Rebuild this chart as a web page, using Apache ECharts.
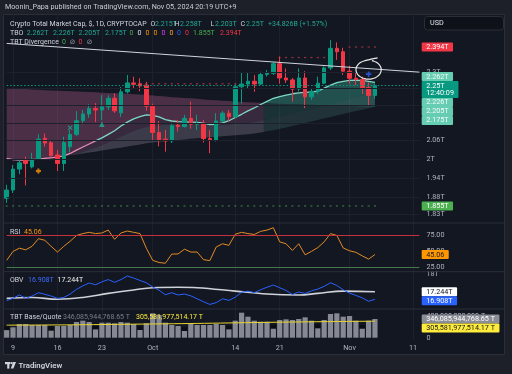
<!DOCTYPE html>
<html>
<head>
<meta charset="utf-8">
<script src="https://cdn.jsdelivr.net/npm/echarts@6.0.0/dist/echarts.min.js"></script>
<style>
html,body{margin:0;padding:0;background:#1d2029;overflow:hidden}
#chart{width:512px;height:374px}
</style>
</head>
<body>
<div id="chart"></div>
<script>
// ---------- categories (daily) ----------
const dates = ['09-08','09-09','09-10','09-11','09-12','09-13','09-14','09-15','09-16','09-17','09-18','09-19','09-20','09-21','09-22','09-23','09-24','09-25','09-26','09-27','09-28','09-29','09-30',
'10-01','10-02','10-03','10-04','10-05','10-06','10-07','10-08','10-09','10-10','10-11','10-12','10-13','10-14','10-15','10-16','10-17','10-18','10-19','10-20','10-21','10-22','10-23','10-24','10-25','10-26','10-27','10-28','10-29','10-30','10-31',
'11-01','11-02','11-03','11-04','11-05','11-06','11-07','11-08','11-09','11-10','11-11','11-12'];
const tickDates = ['09-09','09-16','09-23','10-01','10-14','10-21','11-01','11-11'];
const tickTexts = ['9','16','23','Oct','14','21','Nov','11'];
const priceTicks = [2.3, 2.24, 2.18, 2.12, 2.06, 2, 1.94, 1.88, 1.83];
const rsiTicks = [75, 50, 25];
const obvTicks = [18];
const volTicks = [0, 400];

// ---------- price (T) ----------
const openP  = [1.878,1.903,1.968,1.997,1.975,2.000,2.068,2.053,2.013,1.986,2.040,2.081,2.127,2.150,2.169,2.164,2.175,2.205,2.154,2.228,2.260,2.257,2.252,2.177,2.087,2.065,2.059,2.112,2.107,2.135,2.115,2.118,2.067,2.062,2.126,2.153,2.141,2.246,2.256,2.266,2.256,2.291,2.295,2.331,2.278,2.271,2.238,2.278,2.210,2.230,2.259,2.315,2.389,2.376,2.303,2.277,2.272,2.243,2.215];
const closeP = [1.903,1.968,1.988,1.986,2.000,2.065,2.052,2.011,1.986,2.054,2.081,2.127,2.150,2.169,2.164,2.175,2.205,2.161,2.228,2.260,2.255,2.249,2.177,2.087,2.062,2.059,2.110,2.107,2.135,2.115,2.118,2.067,2.063,2.126,2.153,2.141,2.246,2.256,2.266,2.256,2.291,2.295,2.331,2.278,2.271,2.238,2.278,2.210,2.230,2.259,2.315,2.389,2.376,2.303,2.277,2.272,2.243,2.215,2.250];
const lowP   = [1.864,1.894,1.952,1.917,1.970,1.997,2.040,2.008,1.962,1.962,2.022,2.075,2.115,2.137,2.122,2.129,2.164,2.154,2.140,2.222,2.238,2.230,2.161,2.059,2.041,2.024,2.052,2.090,2.104,2.100,2.096,2.054,2.019,2.057,2.122,2.126,2.136,2.187,2.238,2.228,2.252,2.283,2.289,2.257,2.260,2.193,2.229,2.170,2.199,2.220,2.255,2.307,2.345,2.289,2.257,2.252,2.220,2.181,2.203];
const highP  = [1.919,1.981,1.997,2.008,2.020,2.081,2.084,2.059,2.029,2.073,2.096,2.160,2.164,2.184,2.188,2.216,2.216,2.223,2.245,2.289,2.283,2.277,2.264,2.186,2.126,2.096,2.117,2.129,2.147,2.193,2.147,2.129,2.096,2.153,2.160,2.164,2.255,2.298,2.298,2.289,2.301,2.307,2.337,2.358,2.313,2.278,2.313,2.303,2.240,2.283,2.321,2.421,2.412,2.391,2.323,2.298,2.283,2.262,2.258];
const lastPrice = 2.25;

// ---------- TBO lines (T) ----------
const tboFast = [2.002,1.998,1.997,1.997,1.998,2.000,2.002,2.004,2.006,2.010,2.018,2.029,2.039,2.049,2.059,2.069,2.081,2.093,2.109,2.122,2.133,2.141,2.147,2.145,2.140,2.131,2.126,2.124,2.123,2.122,2.121,2.119,2.114,2.115,2.120,2.127,2.138,2.149,2.161,2.171,2.183,2.194,2.205,2.211,2.216,2.221,2.224,2.226,2.228,2.230,2.241,2.252,2.261,2.266,2.269,2.270,2.269,2.266,2.262];
const tboSlow = [2.241,2.240,2.239,2.238,2.236,2.235,2.234,2.233,2.232,2.231,2.230,2.229,2.228,2.227,2.226,2.225,2.224,2.223,2.222,2.221,2.219,2.218,2.217,2.215,2.213,2.211,2.209,2.208,2.206,2.205,2.203,2.201,2.199,2.198,2.196,2.195,2.193,2.192,2.191,2.190,2.189,2.188,2.187,2.186,2.185,2.184,2.184,2.183,2.182,2.181,2.181,2.180,2.179,2.178,2.178,2.177,2.176,2.176,2.175];
const tboMid  = [null,null,null,null,null,null,null,null,2.006,2.008,2.012,2.017,2.023,2.030,2.037,2.045,2.054,2.063,2.073,2.083,2.092,2.100,2.106,2.109,2.111,2.112,2.113,2.114,2.114,2.114,2.114,2.113,2.111,2.111,2.112,2.114,2.116,2.118,2.119,2.122,2.126,2.131,2.136,2.141,2.147,2.152,2.157,2.162,2.167,2.173,2.178,2.185,2.192,2.197,2.202,2.208,2.213,2.219,2.226];
const tboLow  = [null,null,null,null,null,null,null,null,2.005,2.008,2.012,2.015,2.018,2.021,2.024,2.028,2.031,2.034,2.037,2.041,2.044,2.047,2.051,2.054,2.056,2.058,2.060,2.062,2.064,2.066,2.068,2.070,2.071,2.073,2.075,2.076,2.078,2.080,2.081,2.084,2.087,2.091,2.095,2.100,2.104,2.109,2.114,2.119,2.124,2.129,2.135,2.140,2.145,2.150,2.155,2.160,2.165,2.170,2.175];

// level dots
const levelValues = [1.855, 2.257, 2.354, 2.394];
const levelFrom   = [0, 21, 43, 54];
const levelTo     = [58, 36, 50, 58];
// trend line end points [category index, value]
const trendIdx = [0, 65];
const trendVal = [2.408, 2.2994];
// signal markers
const signalIdx = [5, 10, 15, 57];
const signalVal = [1.962, 2.103, 2.115, 2.292];
// hand drawn circle centre
const circleIdx = 57.05, circleVal = 2.3084;

// ---------- RSI ----------
const rsi = [36,50,55,52.5,58,70,67.5,58,49,58,66,75,78,80,78,79,83.5,69,79,82,80,78,55,36,32.5,31.4,45.8,46,53.5,49,49,37,35.5,56.9,62,59.5,77,80,78,76.6,81.5,83.5,87.3,65,62,51.5,62,44.6,50,56,65,78,75,55.4,51,48.5,43,37.8,45.06];

// ---------- OBV (T) ----------
const obv = [16.85,16.95,17.10,16.95,17.05,17.20,17.13,17.05,16.95,16.99,17.14,17.35,17.50,17.63,17.55,17.68,17.78,17.66,17.78,17.94,17.85,17.74,17.64,17.45,17.31,17.11,17.20,17.10,17.14,17.06,16.93,16.80,16.68,16.76,16.93,16.86,17.00,17.22,17.27,17.20,17.33,17.44,17.54,17.42,17.30,17.12,17.23,17.17,17.28,17.36,17.48,17.64,17.52,17.33,17.18,17.08,16.97,16.82,16.908];
const obvMaIdx = [0,4,8,12,16,20,23,27,30,36,41,46,49,53,58];
const obvMaVal = [16.95,16.99,16.91,16.99,17.17,17.32,17.42,17.44,17.42,17.27,17.14,17.10,17.17,17.27,17.244];

// ---------- TBT Base/Quote (billions of T) ----------
const volGray = [140,192,253,253,235,235,235,130,216,216,235,290,315,290,154,278,278,266,290,278,253,142,266,451,420,278,235,216,124,266,235,235,235,253,235,154,315,463,389,315,296,296,166,327,340,327,346,377,315,173,327,438,451,389,401,315,166,315,346.09];
const sundayIdx   = [0,7,14,21,28,35,42,49,56];
const sundayTotal = [215,204,216,204,192,216,235,253,235];
const volMaIdx = [0,10,20,30,40,50,58];
const volMaVal = [232,238,250,264,282,297,305.58];

// ---------- build ----------
const N = openP.length;
const LAST = dates.length - 1;
const FONT = 'Roboto, "DejaVu Sans", sans-serif';
const F7 = '7.2px ' + FONT;
const FH = '7px ' + FONT;
const AX = '#b2b5be';
const isTick = (idx, val) => tickDates.indexOf(val) >= 0;
const candleData = openP.map((o, i) => [o, closeP[i], lowP[i], highP[i]]);
const volDark = volGray.map((v, i) => { const k = sundayIdx.indexOf(i); return k >= 0 ? sundayTotal[k] : null; });

const mctx = document.createElement('canvas').getContext('2d');
function textW(t) { mctx.font = F7; return mctx.measureText(t).width; }

function renderCloud(params, api) {
  const P = (i, v) => api.coord([i, v]);
  const d = tboFast.map((f, i) => f - tboSlow[i]);
  const kids = [];
  function band(up, lo, s, e, cNeg, cPos) {
    let U = [], D = [];
    const flush = (pos) => {
      if (U.length > 1) kids.push({type: 'polygon', silent: true, shape: {points: U.concat(D.slice().reverse())}, style: {fill: pos ? cPos : cNeg}});
    };
    for (let i = s; i <= e; i++) {
      if (i > s && (d[i] > 0) !== (d[i - 1] > 0)) {
        const t = d[i - 1] / (d[i - 1] - d[i]);
        const a = P(i - 1, up[i - 1]), b = P(i, up[i]), c = P(i - 1, lo[i - 1]), q = P(i, lo[i]);
        const um = [a[0] + (b[0] - a[0]) * t, a[1] + (b[1] - a[1]) * t];
        const lm = [c[0] + (q[0] - c[0]) * t, c[1] + (q[1] - c[1]) * t];
        U.push(um); D.push(lm);
        flush(d[i - 1] > 0);
        U = [um]; D = [lm];
      }
      U.push(P(i, up[i])); D.push(P(i, lo[i]));
    }
    flush(d[e] > 0);
  }
  band(tboFast, tboSlow, 0, N - 1, 'rgba(220,110,170,0.28)', 'rgba(60,180,160,0.24)');
  band(tboFast, tboMid, 8, N - 1, 'rgba(205,120,175,0.20)', 'rgba(60,170,150,0.18)');
  band(tboMid, tboLow, 8, N - 1, 'rgba(205,192,218,0.22)', 'rgba(110,195,178,0.16)');
  return {type: 'group', children: kids};
}

function renderCircle(params, api) {
  const c = api.coord([api.value(0), api.value(1)]);
  const rx = 12.6, ry = 9.4;
  const pts = [[c[0] + 9, c[1] - 11.8], [c[0] + 2.5, c[1] - 10.6]];
  for (let a = 255; a >= -80; a -= 10) {
    const r = a * Math.PI / 180;
    pts.push([c[0] + rx * Math.cos(r), c[1] + ry * Math.sin(r)]);
  }
  return {type: 'polyline', shape: {points: pts, smooth: 0.3}, style: {stroke: '#ececec', lineWidth: 1.2, fill: null}};
}

function boxSeries(g, items, anchor) {
  return {
    type: 'custom', xAxisIndex: g, yAxisIndex: g, clip: false, silent: true, z: 20,
    data: [[LAST, items[0].v]],
    renderItem: function (params, api) {
      const ys = items.map(it => api.coord([LAST, it.v])[1]);
      const x0 = api.coord([LAST, items[0].v])[0] + 2.3;
      const ext = items.map(it => it.t2 ? [-4.6, 12.2] : [-4.5, 4.5]);
      for (let j = anchor + 1; j < items.length; j++) ys[j] = Math.max(ys[j], ys[j - 1] + ext[j - 1][1] - ext[j][0]);
      for (let j = anchor - 1; j >= 0; j--) ys[j] = Math.min(ys[j], ys[j + 1] + ext[j + 1][0] - ext[j][1]);
      const ch = [];
      items.forEach((it, j) => {
        const w = Math.max(textW(it.t), it.t2 ? textW(it.t2) : 0) + 9;
        ch.push({type: 'rect', shape: {x: x0, y: ys[j] + ext[j][0], width: w, height: ext[j][1] - ext[j][0], r: 1}, style: {fill: it.bg}});
        ch.push({type: 'text', style: {text: it.t, x: x0 + 4.5, y: ys[j] + 0.3, fill: it.fg, font: F7, verticalAlign: 'middle', align: 'left'}});
        if (it.t2) ch.push({type: 'text', style: {text: it.t2, x: x0 + 4.5, y: ys[j] + 8, fill: it.fg, font: F7, verticalAlign: 'middle', align: 'left'}});
      });
      return {type: 'group', children: ch};
    }
  };
}

const fmtT = v => parseFloat((+v).toFixed(3)) + 'T';
const levelColors = ['rgba(76,175,80,0.75)', 'rgba(230,60,75,0.8)', 'rgba(230,60,75,0.8)', 'rgba(230,60,75,0.8)'];
const signalSymbols = [
  'path://M3,0H7V3H10V7H7V10H3V7H0V3H3Z',
  'path://M1.5,0L5,3.5L8.5,0L10,1.5L6.5,5L10,8.5L8.5,10L5,6.5L1.5,10L0,8.5L3.5,5L0,1.5Z',
  'triangle',
  'path://M3.5,0H6.5V3.5H10V6.5H6.5V10H3.5V6.5H0V3.5H3.5Z'
];
const signalColors = ['#ff9800', '#22ab94', '#22ab94', '#2962ff'];
const signalSizes = [5, 5, 5.5, 5.5];

const grids = [
  {top: 14, height: 209},
  {top: 223, height: 48.7},
  {top: 271.7, height: 37.3},
  {top: 309, height: 31}
].map(g => Object.assign({left: 6.65, right: 512 - 419.4, containLabel: false, outerBoundsMode: 'none'}, g));

const xAxes = [0, 1, 2, 3].map(g => ({
  type: 'category', gridIndex: g, data: dates, boundaryGap: false,
  axisLine: {show: false}, axisTick: {show: false},
  axisLabel: g === 3 ? {show: true, interval: isTick, formatter: v => tickTexts[tickDates.indexOf(v)], color: AX, fontSize: 7.2, fontFamily: FONT, margin: 4.5} : {show: false},
  splitLine: {show: true, interval: isTick, lineStyle: {color: '#1d212c', width: 1}}
}));

const yBase = {position: 'right', axisLine: {show: false}, axisTick: {show: false}, splitLine: {show: false}};
const lab = (vals, fmt) => ({customValues: vals, formatter: fmt, color: AX, fontSize: 7.2, fontFamily: FONT, margin: 7});
const volMin = -42.6, volMax = 531;
const yAxes = [
  Object.assign({type: 'log', gridIndex: 0, min: 1.8049, max: 2.5244, axisLabel: lab(priceTicks, fmtT)}, yBase),
  Object.assign({type: 'value', gridIndex: 1, min: 18.08, max: 94.65, axisLabel: lab(rsiTicks, v => (+v).toFixed(2))}, yBase),
  Object.assign({type: 'value', gridIndex: 2, min: 16.478, max: 18.129, axisLabel: lab(obvTicks, v => (+v) + 'T')}, yBase),
  Object.assign({type: 'value', gridIndex: 3, min: volMin, max: volMax, axisLabel: lab([volTicks[1]], v => (+v) + ',000,000,000 T')}, yBase)
];

const series = [];
series.push({
  type: 'custom', name: 'cloud', xAxisIndex: 0, yAxisIndex: 0, data: [[0, tboFast[0]]], renderItem: renderCloud, z: 1, silent: true, clip: false,
  markLine: {silent: true, symbol: 'none', label: {show: false}, lineStyle: {color: '#1d212c', width: 1, type: 'solid'}, data: priceTicks.map(v => ({yAxis: v}))}
});
series.push({type: 'line', data: tboFast.map((v, i) => i <= 14 ? v : null), symbol: 'none', lineStyle: {color: '#e58fb8', width: 1.3}, z: 3, silent: true});
series.push({type: 'line', data: tboFast.map((v, i) => i >= 14 ? v : null), symbol: 'none', lineStyle: {color: '#7fd8c5', width: 1.3}, z: 3, silent: true});
series.push({
  type: 'candlestick', data: candleData, barWidth: 4, clip: false, z: 4,
  itemStyle: {color: '#089981', color0: '#f23645', borderColor: '#089981', borderColor0: '#f23645', borderWidth: 1},
  markLine: {silent: true, symbol: 'none', label: {show: false}, lineStyle: {color: '#089981', type: [1.5, 2], width: 1}, data: [{yAxis: lastPrice}]}
});
levelValues.forEach((lv, k) => {
  const pts = [];
  for (let i = levelFrom[k]; i <= levelTo[k]; i++) pts.push([i, lv]);
  series.push({type: 'scatter', data: pts, symbol: 'rect', symbolSize: [2, 1.3], itemStyle: {color: levelColors[k]}, z: 5, silent: true});
});
series.push({type: 'line', data: trendIdx.map((x, i) => [x, trendVal[i]]), symbol: 'none', lineStyle: {color: '#d1d4dc', width: 1}, z: 6, clip: false, silent: true});
series.push({
  type: 'scatter', z: 7, silent: true,
  data: signalIdx.map((x, i) => ({value: [x, signalVal[i]], symbol: signalSymbols[i], symbolSize: signalSizes[i], itemStyle: {color: signalColors[i]}}))
});
series.push({type: 'custom', data: [[circleIdx, circleVal]], renderItem: renderCircle, z: 8, clip: false, silent: true});

// RSI
series.push({
  type: 'line', xAxisIndex: 1, yAxisIndex: 1, data: rsi, symbol: 'none', lineStyle: {color: '#e38b24', width: 1}, z: 3, silent: true,
  markLine: {silent: true, symbol: 'none', label: {show: false}, data: [
    {yAxis: 75, lineStyle: {color: '#c4323d', width: 1, type: 'solid'}},
    {yAxis: 25, lineStyle: {color: '#45784c', width: 1, type: 'solid'}}
  ]}
});
// OBV
series.push({type: 'line', xAxisIndex: 2, yAxisIndex: 2, data: obvMaIdx.map((x, i) => [x, obvMaVal[i]]), smooth: 0.4, symbol: 'none', lineStyle: {color: '#cfd2d8', width: 1.6}, z: 3, silent: true});
series.push({type: 'line', xAxisIndex: 2, yAxisIndex: 2, data: obv, symbol: 'none', lineStyle: {color: '#2962ff', width: 1}, z: 4, silent: true});
// Volume
series.push({type: 'bar', xAxisIndex: 3, yAxisIndex: 3, data: volDark, barWidth: 5.2, barGap: '-100%', clip: false, itemStyle: {color: '#0b0d13'}, z: 2, silent: true});
series.push({type: 'bar', xAxisIndex: 3, yAxisIndex: 3, data: volGray, barWidth: 5.2, barGap: '-100%', clip: false, itemStyle: {color: '#868993'}, z: 3, silent: true});
series.push({type: 'line', xAxisIndex: 3, yAxisIndex: 3, data: volMaIdx.map((x, i) => [x, volMaVal[i]]), smooth: 0.3, symbol: 'none', lineStyle: {color: '#e8d430', width: 1}, z: 4, silent: true});

// right scale boxes
series.push(boxSeries(0, [
  {v: 2.394, t: '2.394T', bg: '#f23645', fg: '#ffffff'},
  {v: 2.262, t: '2.262T', bg: '#66cdb3', fg: '#f4fbf9'},
  {v: 2.25, t: '2.25T', t2: '12:40:09', bg: '#089981', fg: '#ffffff'},
  {v: 2.226, t: '2.226T', bg: '#66cdb3', fg: '#f4fbf9'},
  {v: 2.205, t: '2.205T', bg: '#66cdb3', fg: '#f4fbf9'},
  {v: 2.175, t: '2.175T', bg: '#66cdb3', fg: '#f4fbf9'},
  {v: 1.855, t: '1.855T', bg: '#4caf50', fg: '#ffffff'}
], 2));
series.push(boxSeries(1, [{v: 45.06, t: '45.06', bg: '#ff9800', fg: '#131722'}], 0));
series.push(boxSeries(2, [
  {v: 17.244, t: '17.244T', bg: '#ffffff', fg: '#131722'},
  {v: 16.908, t: '16.908T', bg: '#2962ff', fg: '#ffffff'}
], 0));
series.push(boxSeries(3, [
  {v: 346.086, t: '346,085,944,768.65 T', bg: '#8a8d96', fg: '#ffffff'},
  {v: 305.582, t: '305,581,977,514.17 T', bg: '#ffeb3b', fg: '#131722'}
], 0));

// volume-scale zero label position from the volume pane's own axis range
const g3 = grids[3];
const zeroX = 512 - g3.right + 7;
const zeroY = g3.top + g3.height * (volMax - volTicks[0]) / (volMax - volMin);

// ---------- static texts / frame ----------
function txt(x, y, s, color, font) {
  return {type: 'text', x: x, y: y, z: 50, silent: true, style: {text: s, fill: color, font: font || FH, verticalAlign: 'middle', align: 'left'}};
}
const W = '#d1d4dc', G = '#22ab94';
const graphic = [
  {type: 'rect', z: -10, silent: true, shape: {x: 3.5, y: 14.5, width: 501, height: 340}, style: {fill: '#131722', stroke: '#2a2e39', lineWidth: 1}},
  {type: 'line', z: 1, silent: true, shape: {x1: 4, y1: 223, x2: 504, y2: 223}, style: {stroke: '#2a2e39', lineWidth: 1}},
  {type: 'line', z: 1, silent: true, shape: {x1: 4, y1: 271.7, x2: 504, y2: 271.7}, style: {stroke: '#2a2e39', lineWidth: 1}},
  {type: 'line', z: 1, silent: true, shape: {x1: 4, y1: 309, x2: 504, y2: 309}, style: {stroke: '#2a2e39', lineWidth: 1}},
  {type: 'rect', z: 40, silent: true, shape: {x: 424.5, y: 16.5, width: 79, height: 13.5, r: 3}, style: {fill: '#0f1119', stroke: '#2a2e39', lineWidth: 1}},
  txt(430, 23.4, 'USD', '#e0e3eb', F7),
  txt(5, 7, 'Moonin_Papa published on TradingView.com, Nov 05, 2024 20:19 UTC+9', '#c9ccd3', F7),
  txt(10, 24, 'Crypto Total Market Cap, $, 1D, CRYPTOCAP', W),
  txt(150.5, 24, 'O', W), txt(155, 24, '2.215T', G),
  txt(174.5, 24, 'H', W), txt(180, 24, '2.258T', G),
  txt(210.5, 24, 'L', W), txt(215, 24, '2.203T', G),
  txt(240.5, 24, 'C', W), txt(246, 24, '2.25T', G),
  txt(268, 24, '+34.826B (+1.57%)', G),
  txt(10, 33.3, 'TBO', W),
  txt(26.7, 33.3, '2.262T', G), txt(53, 33.3, '2.226T', G), txt(78.5, 33.3, '2.205T', G), txt(105, 33.3, '2.175T', G),
  txt(129.5, 33.3, '0', '#4caf50'), txt(137.5, 33.3, '0', '#e0e3eb'), txt(145.5, 33.3, '0', '#ff9800'), txt(153.5, 33.3, '0', '#ff9800'),
  txt(161.5, 33.3, '0', '#e040fb'), txt(169.5, 33.3, '0', '#ffa726'), txt(177, 33.3, '0', '#2962ff'), txt(185, 33.3, '0', '#f23645'),
  txt(193, 33.3, '1.855T', '#4caf50'), txt(220, 33.3, '2.394T', '#f23645'),
  txt(10, 42, 'TBT Divergence', W),
  txt(62, 42, '0', '#4caf50'), txt(69.5, 42, '\u2298', '#9598a1'), txt(78.5, 42, '0', '#f23645'), txt(86.5, 42, '\u2298', '#9598a1'),
  txt(10, 232.7, 'RSI', W), txt(24, 232.7, '45.06', '#ff9800'),
  txt(10, 280.7, 'OBV', W), txt(28, 280.7, '16.908T', '#3d6cff'), txt(57.5, 280.7, '17.244T', '#eeeeee'),
  txt(10, 317.7, 'TBT Base/Quote', W), txt(63, 317.7, '346,085,944,768.65 T', '#7c7f89'), txt(136, 317.7, '305,581,977,514.17 T', '#ffeb3b'),
  txt(zeroX, zeroY, String(volTicks[0]), AX, F7),
  {type: 'rect', z: 50, silent: true, shape: {x: 5, y: 362, width: 5.5, height: 2.2}, style: {fill: '#d1d4dc'}},
  {type: 'rect', z: 50, silent: true, shape: {x: 7.2, y: 362, width: 2.2, height: 6.6}, style: {fill: '#d1d4dc'}},
  {type: 'circle', z: 50, silent: true, shape: {cx: 11.8, cy: 363.1, r: 1.1}, style: {fill: '#d1d4dc'}},
  {type: 'polygon', z: 50, silent: true, shape: {points: [[13.2, 362], [16, 362], [13.4, 368.6], [10.8, 368.6]]}, style: {fill: '#d1d4dc'}},
  txt(18.5, 365.8, 'TradingView', '#d1d4dc', '600 7.8px ' + FONT)
];

const chart = echarts.init(document.getElementById('chart'), null, {renderer: 'canvas'});
chart.setOption({
  backgroundColor: '#1d2029',
  animation: false,
  grid: grids,
  xAxis: xAxes,
  yAxis: yAxes,
  series: series,
  graphic: graphic
});
</script>
</body>
</html>
